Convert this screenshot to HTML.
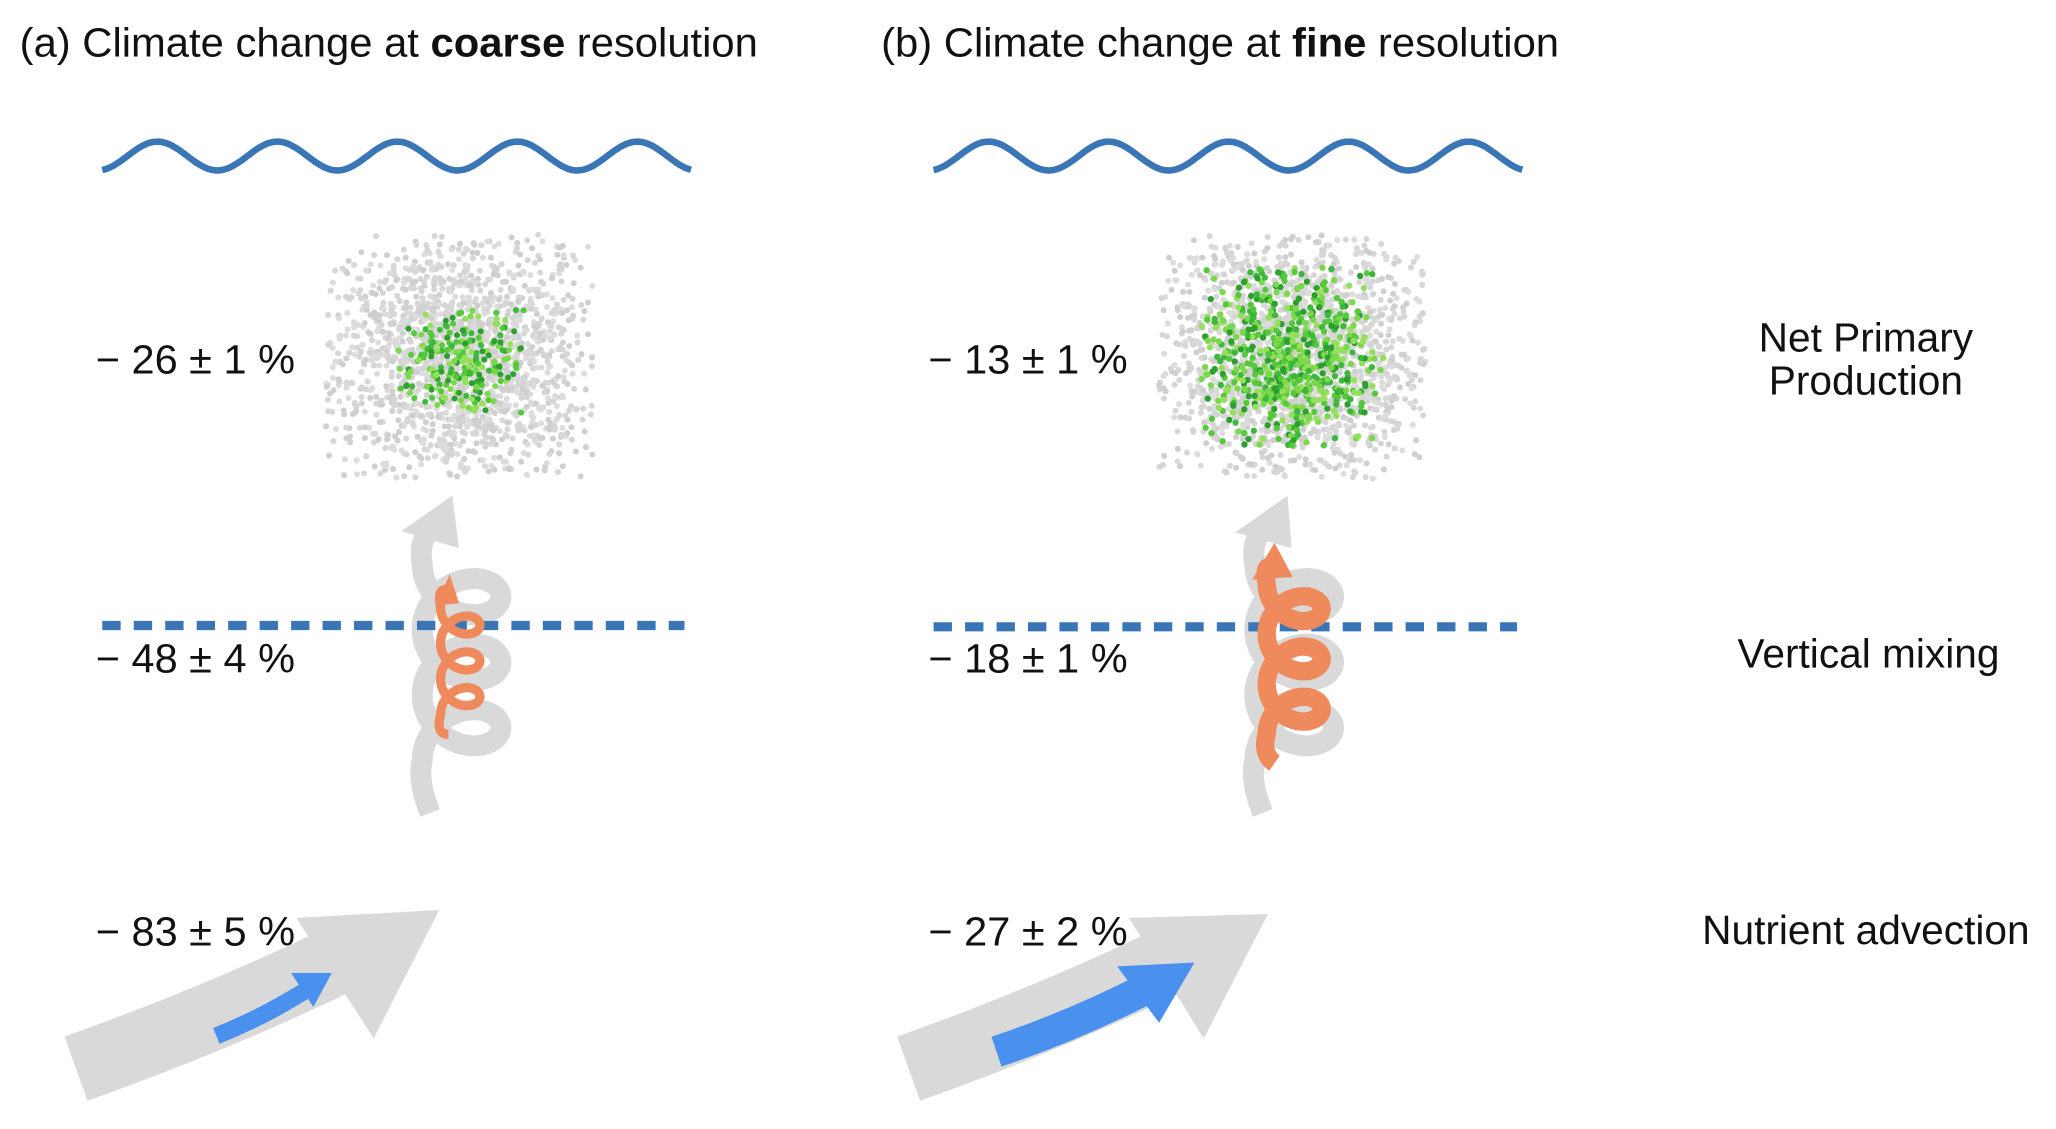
<!DOCTYPE html>
<html><head><meta charset="utf-8">
<style>html,body{margin:0;padding:0;background:#fff}svg{display:block}</style>
</head><body>
<svg id="s" width="2056" height="1129" viewBox="0 0 1568 861" preserveAspectRatio="none" xmlns="http://www.w3.org/2000/svg" font-family="'Liberation Sans', sans-serif">
<rect width="1568" height="861" fill="#fff"/>
<text x="15" y="43" font-size="31" fill="#111" textLength="563" lengthAdjust="spacingAndGlyphs">(a) Climate change at <tspan font-weight="bold">coarse</tspan> resolution</text>
<text x="672" y="43" font-size="31" fill="#111" textLength="517" lengthAdjust="spacingAndGlyphs">(b) Climate change at <tspan font-weight="bold">fine</tspan> resolution</text>
<g id="waves" fill="none" stroke="#3a75b5" stroke-width="5"></g>
<g id="dots"></g>
<g id="swirls"></g>
<line x1="78" y1="477" x2="522" y2="477" stroke="#3a75b5" stroke-width="7" stroke-dasharray="14,10"/>
<line x1="712" y1="478" x2="1157" y2="478" stroke="#3a75b5" stroke-width="7" stroke-dasharray="14,10"/>
<g id="orange"></g>
<!-- advection a -->
<path d="M58,815 Q170,775 262,730" fill="none" stroke="#d9d9d9" stroke-width="52"/>
<polygon points="226,700 335,694 285,792" fill="#d9d9d9"/>
<path d="M165,790 Q200,776 232,756" fill="none" stroke="#4a90ee" stroke-width="13"/>
<polygon points="222,742 253,742 239,768" fill="#4a90ee"/>
<!-- advection b -->
<path d="M693,815 Q805,775 897,730" fill="none" stroke="#d9d9d9" stroke-width="52"/>
<polygon points="861,700 967,697 918,792" fill="#d9d9d9"/>
<path d="M760,802 Q820,782 878,752" fill="none" stroke="#4a90ee" stroke-width="24"/>
<polygon points="852,737 911,734 884,780" fill="#4a90ee"/>
<g font-size="31" fill="#111">
<text x="73" y="285" textLength="152" lengthAdjust="spacingAndGlyphs">− 26 ± 1 %</text>
<text x="708" y="285" textLength="152" lengthAdjust="spacingAndGlyphs">− 13 ± 1 %</text>
<text x="73" y="513" textLength="152" lengthAdjust="spacingAndGlyphs">− 48 ± 4 %</text>
<text x="708" y="513" textLength="152" lengthAdjust="spacingAndGlyphs">− 18 ± 1 %</text>
<text x="73" y="721" textLength="152" lengthAdjust="spacingAndGlyphs">− 83 ± 5 %</text>
<text x="708" y="721" textLength="152" lengthAdjust="spacingAndGlyphs">− 27 ± 2 %</text>
<text x="1423" y="268" text-anchor="middle">Net Primary</text>
<text x="1423" y="301" text-anchor="middle">Production</text>
<text x="1425" y="509" text-anchor="middle">Vertical mixing</text>
<text x="1423" y="720" text-anchor="middle">Nutrient advection</text>
</g>
</svg>
<script>
(function(){
var NS="http://www.w3.org/2000/svg";
function el(t,a,p){var e=document.createElementNS(NS,t);for(var k in a)e.setAttribute(k,a[k]);p.appendChild(e);return e;}
var wg=document.getElementById('waves');
[78,712].forEach(function(x0){
 var d="";var L=449, per=91.5;
 for(var i=0;i<=200;i++){var x=x0+L*i/200;var y=119-11*Math.cos(2*Math.PI*(x-x0-42)/per);d+=(i?"L":"M")+x.toFixed(1)+","+y.toFixed(1);}
 el('path',{d:d},wg);
});
var seed=12345;function r(){seed=(seed*16807)%2147483647;return (seed-1)/2147483646;}
function g(){return (r()+r()+r()-1.5)/0.5;}
var dg=document.getElementById('dots');
function cloud(cx,cy,hw,hh,n,cols,rad){
 for(var i=0;i<n;i++){var x=cx+g()*hw*0.5,y=cy+g()*hh*0.5;
  if(Math.abs(x-cx)>hw||Math.abs(y-cy)>hh)continue;
  el('circle',{cx:x.toFixed(1),cy:y.toFixed(1),r:rad,fill:cols[Math.floor(r()*cols.length)]},dg);}
}
var gr=['#d6d6d6','#dcdcdc','#cfcfcf'];
var gn=['#2ca02c','#56c93a','#7ad84a','#3cb83c','#94e05a'];
cloud(350,272,102,93,1800,gr,2.3);
cloud(352,275,48,40,260,gn,2.3);
cloud(985,272,103,93,1800,gr,2.3);
cloud(985,272,70,68,700,gn,2.4);
function troch(x0,yb,yt,rx,ry){var pts=[];var k=(yb-yt)/(6*Math.PI);
 for(var i=0;i<=240;i++){var t=6*Math.PI*i/240;pts.push([x0+rx*(1-Math.cos(t)),yb-k*t-ry*Math.sin(t)]);}return pts;}
function swirl(par,x0,ybot,yb,yt,ytop,rx,ry,w,col,tip,w1,w2){
 var p=troch(x0,yb,yt,rx,ry);var d="M"+(x0+6)+","+ybot+" Q"+(x0-4)+","+(yb+15)+" "+x0+","+yb;
 p.forEach(function(q){d+=" L"+q[0].toFixed(1)+","+q[1].toFixed(1);});
 d+=" Q"+(x0-3)+","+(yt-15)+" "+(x0+5)+","+ytop;
 el('path',{d:d,fill:'none',stroke:col,'stroke-width':w,'stroke-linejoin':'round'},par);
 el('polygon',{points:tip+" "+w1+" "+w2,fill:col},par);
}
var sg=document.getElementById('swirls'),og=document.getElementById('orange');
swirl(sg,322,620,580,430,405,30,25,16,'#d9d9d9','345,378','306,405','350,418');
swirl(sg,957,620,580,430,405,30,25,16,'#d9d9d9','982,378','942,406','985,418');
swirl(og,336,560,545,463,450,15,13,7,'#ef8a5c','343,438','332,462','350,460');
swirl(og,966,582,560,445,432,21,18,14,'#ef8a5c','972,414','955,442','986,440');
})();
</script>
</body></html>
